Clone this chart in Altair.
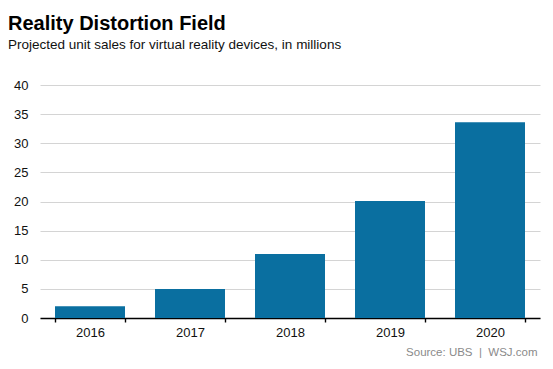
import altair as alt
import pandas as pd

years = ["2016", "2017", "2018", "2019", "2020"]
sales = [2.0, 5.0, 11.0, 20.1, 33.6]
y_ticks = [0, 5, 10, 15, 20, 25, 30, 35, 40]

df = pd.DataFrame({"year": years, "sales": sales})

font = "Liberation Sans"

chart = alt.Chart(df).mark_bar(color="#0a6fa0").encode(
    x=alt.X(
        "year:N",
        sort=years,
        scale=alt.Scale(paddingInner=0.3, paddingOuter=0.15),
        axis=alt.Axis(
            title="Source: UBS\u00a0\u00a0|\u00a0\u00a0WSJ.com",
            titleFont=font,
            titleFontSize=11.5,
            titleFontWeight="normal",
            titleColor="#8a8a8a",
            titleAlign="right",
            titleAnchor="end",
            titleBaseline="top",
            titleX=497,
            titleY=28,
            labelAngle=0,
            labelFont=font,
            labelFontSize=13,
            labelColor="#111111",
            labelPadding=4,
            domainColor="#000000",
            domainWidth=1.6,
            tickColor="#000000",
            tickSize=4,
            tickWidth=1.4,
            tickBand="extent",
            grid=False,
        ),
    ),
    y=alt.Y(
        "sales:Q",
        scale=alt.Scale(domain=[0, 40], nice=False),
        axis=alt.Axis(
            title=None,
            values=y_ticks,
            labelFont=font,
            labelFontSize=13,
            labelColor="#111111",
            labelPadding=12,
            domain=False,
            ticks=False,
            grid=True,
            gridColor="#d4d4d4",
            gridWidth=1,
        ),
    ),
).properties(
    width=500,
    height=233,
    autosize=alt.AutoSizeParams(type="none"),
    padding={"left": 32, "top": 77, "right": 5, "bottom": 50},
    title=alt.TitleParams(
        text="Reality Distortion Field",
        subtitle="Projected unit sales for virtual reality devices, in millions",
        anchor="start",
        frame="group",
        dx=-32,
        offset=28,
        font=font,
        fontSize=20,
        fontWeight="bold",
        color="#000000",
        subtitleFont=font,
        subtitleFontSize=13.5,
        subtitleColor="#111111",
        subtitlePadding=4,
    ),
).configure_view(stroke=None)

chart.save("out.html", embed_options={"renderer": "svg", "actions": False})
